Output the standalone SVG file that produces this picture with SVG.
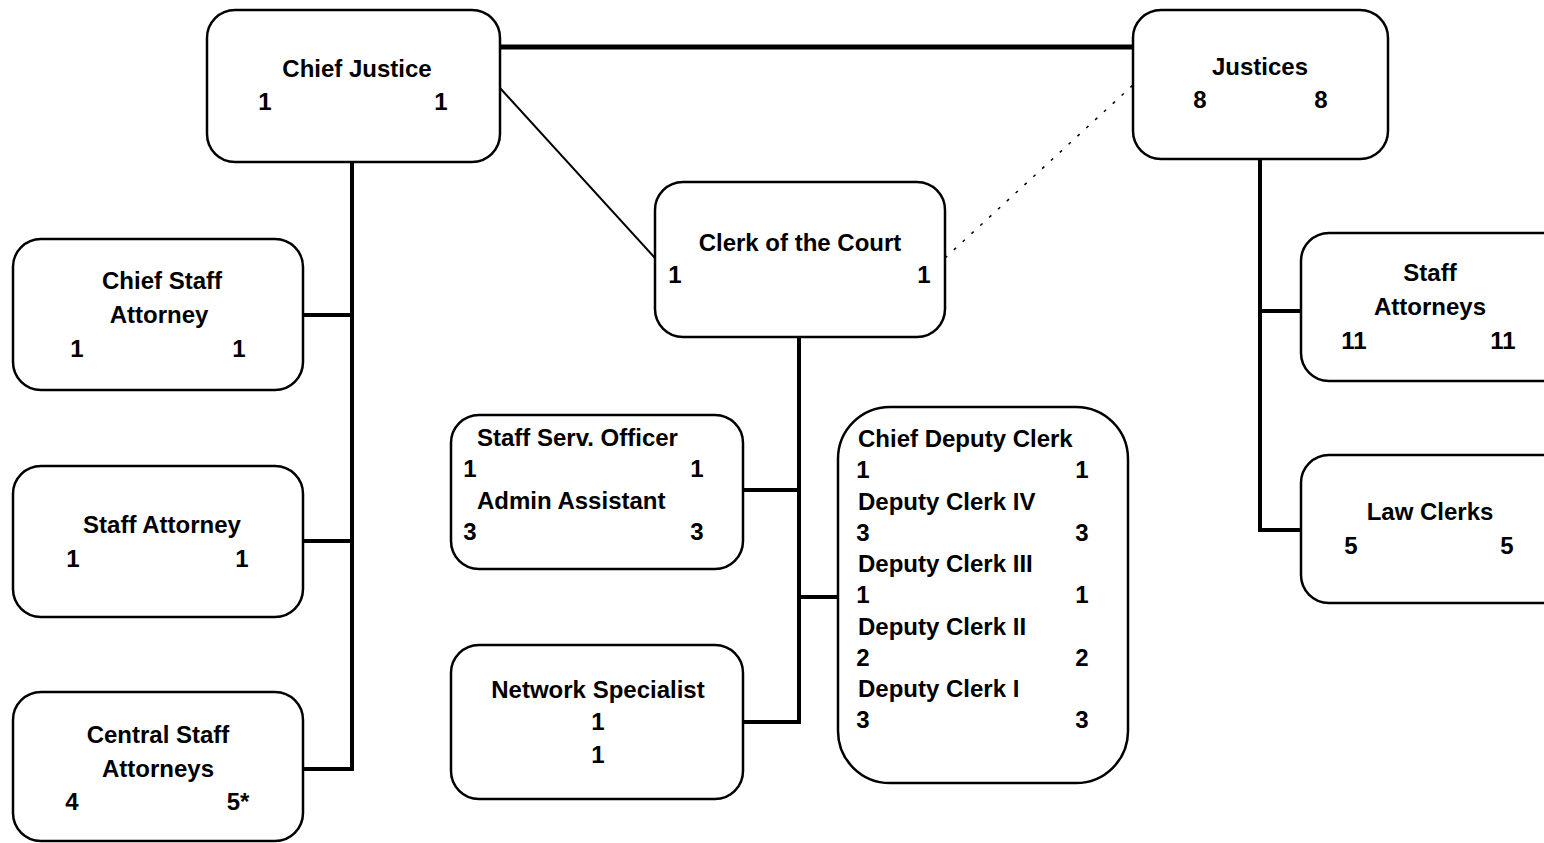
<svg xmlns="http://www.w3.org/2000/svg" width="1544" height="843" viewBox="0 0 1544 843">
<style>
.box{fill:#fff;stroke:#000;stroke-width:2.5}
text{font-family:"Liberation Sans",Arial,sans-serif;font-weight:bold;font-size:24px;fill:#000}
.m{text-anchor:middle}
.c{stroke:#000;fill:none}
.thick{stroke-width:5}
.med{stroke-width:4}
</style>
<rect width="1544" height="843" fill="#fff"/>
<g id="connectors">
<line class="c thick" x1="500" y1="47" x2="1133" y2="47"/>
<line class="c" stroke-width="2" x1="500" y1="88" x2="655" y2="258"/>
<line class="c" stroke-width="1.5" stroke-dasharray="3,9" x1="945" y1="258" x2="1133" y2="85"/>
<line class="c med" x1="352" y1="162" x2="352" y2="771"/>
<line class="c med" x1="303" y1="315" x2="352" y2="315"/>
<line class="c med" x1="303" y1="541" x2="352" y2="541"/>
<line class="c med" x1="303" y1="769" x2="354" y2="769"/>
<line class="c med" x1="799" y1="337" x2="799" y2="724"/>
<line class="c med" x1="743" y1="490" x2="799" y2="490"/>
<line class="c med" x1="743" y1="722" x2="801" y2="722"/>
<line class="c med" x1="799" y1="597" x2="838" y2="597"/>
<line class="c med" x1="1260" y1="159" x2="1260" y2="532"/>
<line class="c med" x1="1260" y1="311" x2="1301" y2="311"/>
<line class="c med" x1="1258" y1="530" x2="1301" y2="530"/>
</g>
<g id="chief-justice">
<rect class="box" x="207" y="10" width="293" height="152" rx="28"/>
<text class="m" x="357" y="77">Chief Justice</text>
<text class="m" x="265" y="110">1</text>
<text class="m" x="441" y="110">1</text>
</g>
<g id="justices">
<rect class="box" x="1133" y="10" width="255" height="149" rx="28"/>
<text class="m" x="1260" y="75">Justices</text>
<text class="m" x="1200" y="108">8</text>
<text class="m" x="1321" y="108">8</text>
</g>
<g id="clerk-of-the-court">
<rect class="box" x="655" y="182" width="290" height="155" rx="28"/>
<text class="m" x="800" y="251">Clerk of the Court</text>
<text class="m" x="675" y="283">1</text>
<text class="m" x="924" y="283">1</text>
</g>
<g id="chief-staff-attorney">
<rect class="box" x="13" y="239" width="290" height="151" rx="28"/>
<text class="m" x="162" y="289">Chief Staff</text>
<text class="m" x="159" y="323">Attorney</text>
<text class="m" x="77" y="357">1</text>
<text class="m" x="239" y="357">1</text>
</g>
<g id="staff-attorney">
<rect class="box" x="13" y="466" width="290" height="151" rx="28"/>
<text class="m" x="162" y="533">Staff Attorney</text>
<text class="m" x="73" y="567">1</text>
<text class="m" x="242" y="567">1</text>
</g>
<g id="central-staff-attorneys">
<rect class="box" x="13" y="692" width="290" height="149" rx="28"/>
<text class="m" x="158" y="743">Central Staff</text>
<text class="m" x="158" y="777">Attorneys</text>
<text class="m" x="72" y="810">4</text>
<text class="m" x="238" y="810">5*</text>
</g>
<g id="staff-serv-officer">
<rect class="box" x="451" y="415" width="292" height="154" rx="28"/>
<text x="477" y="446">Staff Serv. Officer</text>
<text class="m" x="470" y="477">1</text>
<text class="m" x="697" y="477">1</text>
<text x="477" y="509">Admin Assistant</text>
<text class="m" x="470" y="540">3</text>
<text class="m" x="697" y="540">3</text>
</g>
<g id="network-specialist">
<rect class="box" x="451" y="645" width="292" height="154" rx="28"/>
<text class="m" x="598" y="698">Network Specialist</text>
<text class="m" x="598" y="730">1</text>
<text class="m" x="598" y="763">1</text>
</g>
<g id="chief-deputy-clerk">
<rect class="box" x="838" y="407" width="290" height="376" rx="52"/>
<text x="858" y="447">Chief Deputy Clerk</text>
<text class="m" x="863" y="478">1</text>
<text class="m" x="1082" y="478">1</text>
<text x="858" y="510">Deputy Clerk IV</text>
<text class="m" x="863" y="541">3</text>
<text class="m" x="1082" y="541">3</text>
<text x="858" y="572">Deputy Clerk III</text>
<text class="m" x="863" y="603">1</text>
<text class="m" x="1082" y="603">1</text>
<text x="858" y="635">Deputy Clerk II</text>
<text class="m" x="863" y="666">2</text>
<text class="m" x="1082" y="666">2</text>
<text x="858" y="697">Deputy Clerk I</text>
<text class="m" x="863" y="728">3</text>
<text class="m" x="1082" y="728">3</text>
</g>
<g id="staff-attorneys">
<rect class="box" x="1301" y="233" width="270" height="148" rx="28"/>
<text class="m" x="1430" y="281">Staff</text>
<text class="m" x="1430" y="315">Attorneys</text>
<text class="m" x="1354" y="349">11</text>
<text class="m" x="1503" y="349">11</text>
</g>
<g id="law-clerks">
<rect class="box" x="1301" y="455" width="270" height="148" rx="28"/>
<text class="m" x="1430" y="520">Law Clerks</text>
<text class="m" x="1351" y="554">5</text>
<text class="m" x="1507" y="554">5</text>
</g>
</svg>
